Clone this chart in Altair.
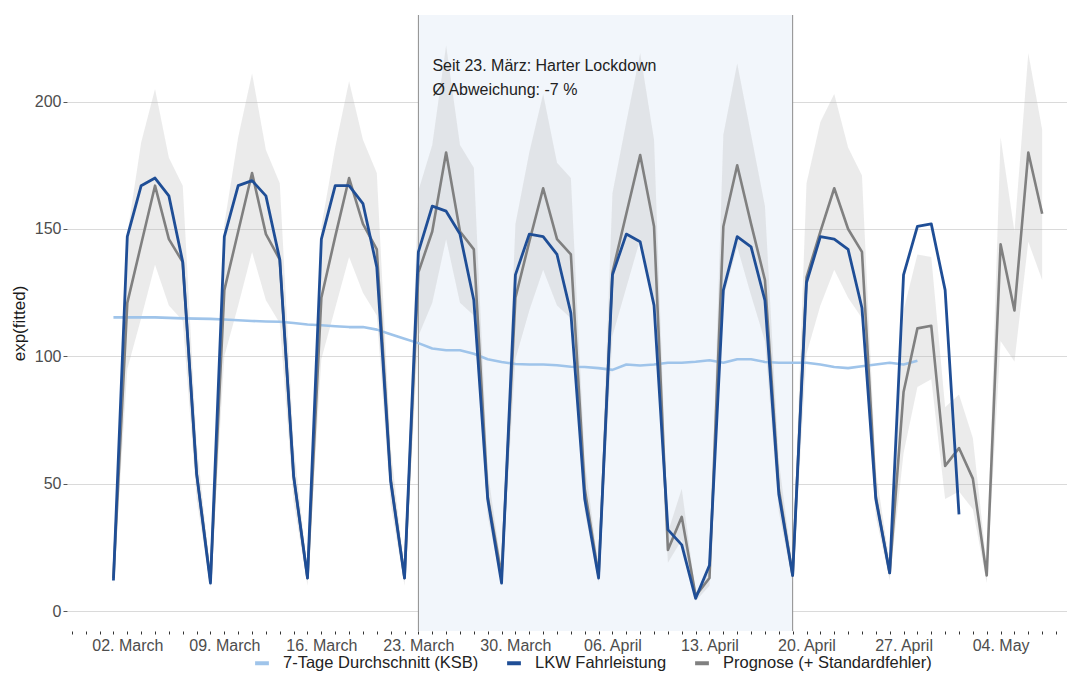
import altair as alt
import pandas as pd

# ---------------- data ----------------
dates = pd.date_range("2020-03-01", periods=68, freq="D").strftime("%Y-%m-%d").tolist()

SER_KSB = "7-Tage Durchschnitt (KSB)"
SER_LKW = "LKW Fahrleistung"
SER_PRO = "Prognose (+ Standardfehler)"

lkw = [12, 147, 167, 170, 163, 137, 54,
       11, 147, 167, 169, 163, 138, 53,
       13, 146, 167, 167, 160, 135, 51,
       13, 141, 159, 157, 148, 122, 44,
       11, 132, 148, 147, 140, 117, 44,
       13, 132, 148, 145, 120, 32, 26,
       5, 18, 126, 147, 143, 122, 46,
       14, 129, 147, 146, 142, 119, 44,
       15, 132, 151, 152, 126, 38]

prognose = [13, 121, 144, 167, 146, 137, 54,
            12, 126, 149, 172, 148, 138, 53,
            13, 123, 147, 170, 152, 142, 52,
            13, 133, 149, 180, 149, 142, 45,
            14, 123, 145, 166, 146, 140, 48,
            14, 133, 156, 179, 151, 24, 37,
            6, 13, 151, 175, 152, 130, 48,
            14, 131, 149, 166, 150, 141, 45,
            15, 86, 111, 112, 57, 64, 52,
            14, 144, 118, 180, 156]

prog_lower = [10, 95, 115, 136, 120, 114, 44,
              9, 100, 120, 141, 122, 113, 43,
              10, 99, 119, 139, 125, 116, 42,
              10, 108, 121, 146, 121, 116, 37,
              11, 99, 118, 134, 120, 115, 39,
              11, 108, 127, 146, 123, 19, 28,
              4, 10, 123, 143, 124, 106, 39,
              11, 101, 120, 134, 123, 115, 37,
              12, 62, 88, 91, 44, 47, 40,
              11, 106, 98, 145, 130]

prog_upper = [16, 148, 184, 205, 178, 167, 66,
              15, 152, 186, 211, 181, 168, 65,
              16, 151, 182, 208, 185, 172, 64,
              16, 165, 183, 222, 183, 174, 55,
              17, 152, 180, 203, 176, 170, 59,
              17, 164, 192, 219, 185, 31, 48,
              7, 16, 187, 215, 187, 159, 59,
              17, 168, 192, 203, 182, 171, 55,
              19, 118, 140, 139, 80, 85, 68,
              18, 186, 149, 219, 189]

ksb = [115.3, 115.3, 115.3, 115.3, 115.1, 114.9, 114.8,
       114.7, 114.5, 114.2, 113.9, 113.7, 113.6, 113.1,
       112.5, 112.2, 111.8, 111.5, 111.5, 110.5, 108.7,
       106.9, 105.2, 103.1, 102.4, 102.4, 101.0, 98.9,
       97.8, 97.0, 96.8, 96.8, 96.5, 95.9, 95.8,
       95.4, 94.7, 96.8, 96.4, 96.8, 97.5, 97.5,
       97.9, 98.5, 97.5, 98.9, 98.9, 97.8, 97.5,
       97.5, 97.5, 96.8, 95.8, 95.4, 96.1, 96.8,
       97.5, 96.8, 98.3]

lockdown_start = "2020-03-23"
lockdown_end = "2020-04-19"
note_lines = ["Seit 23. März: Harter Lockdown", "Ø Abweichung: -7 %"]
note_values = [214, 204.5]

# ---------------- tables ----------------
rows = []
for d, v in zip(dates, ksb):
    rows.append({"date": d, "value": v, "series": SER_KSB})
for d, v in zip(dates, lkw):
    rows.append({"date": d, "value": v, "series": SER_LKW})
for d, v in zip(dates, prognose):
    rows.append({"date": d, "value": v, "series": SER_PRO})
lines_df = pd.DataFrame(rows)

ribbon_df = pd.DataFrame({"date": dates, "lower": prog_lower, "upper": prog_upper})
rect_df = pd.DataFrame({"date": [lockdown_start], "date_end": [lockdown_end]})
edge_df = pd.DataFrame({"date": [lockdown_start, lockdown_end]})
note_df = pd.DataFrame({"date": [lockdown_start] * 2, "value": note_values, "text": note_lines})

# ---------------- layout ----------------
W = 1000
H = 616

x_scale = alt.Scale(
    type="utc",
    domain=[alt.DateTime(year=2020, month=2, date=26, hours=15, minutes=36, utc=True),
            alt.DateTime(year=2020, month=5, date=8, hours=19, utc=True)],
)
x_axis = alt.Axis(
    title=None, grid=False, domain=False,
    tickCount={"interval": "day", "step": 1},
    labelExpr="utcFormat(datum.value, '%u') == '1' ? utcFormat(datum.value, '%d. %B') : ''",
    labelOverlap=False, labelFlush=False,
    tickColor="#333333", tickSize=3, tickWidth=1,
    labelFontSize=16, labelColor="#4d4d4d", labelPadding=3,
)
y_scale = alt.Scale(domain=[-7.8, 234], nice=False, zero=False)
y_axis = alt.Axis(
    title="exp(fitted)", values=[0, 50, 100, 150, 200],
    grid=True, gridColor="#dadada", gridWidth=1.2, domain=False,
    tickColor="#555555", tickSize=4, labelFontSize=16, labelColor="#4d4d4d",
    labelPadding=2, titleFontSize=17, titleFontWeight="normal", titleColor="#1a1a1a",
    titlePadding=6, minExtent=33, maxExtent=33,
)

X = alt.X("date:T", scale=x_scale, axis=x_axis)

color = alt.Color(
    "series:N",
    scale=alt.Scale(domain=[SER_KSB, SER_LKW, SER_PRO], range=["#9fc4ea", "#1f4e96", "#808080"]),
    legend=alt.Legend(
        title=None, orient="none", direction="horizontal",
        legendX=186, legendY=639,
        symbolType="stroke", symbolStrokeWidth=4, symbolSize=190,
        labelFontSize=16.5, labelColor="#222222", columnPadding=20, labelOffset=12,
        labelLimit=0,
    ),
)

rect = alt.Chart(rect_df).mark_rect(color="#f2f6fb").encode(
    x=X, x2="date_end:T", y=alt.value(0), y2=alt.value(H)
)
edges = alt.Chart(edge_df).mark_rule(color="#8c8c8c", strokeWidth=1).encode(
    x=X, y=alt.value(0), y2=alt.value(H)
)
ribbon = alt.Chart(ribbon_df).mark_area(color="#b4b4b4", opacity=0.27).encode(
    x=X, y=alt.Y("lower:Q", scale=y_scale, axis=y_axis), y2="upper:Q"
)

def line_layer(name, width):
    return alt.Chart(lines_df).transform_filter(alt.datum.series == name).mark_line(
        strokeWidth=width, strokeJoin="round"
    ).encode(x=X, y=alt.Y("value:Q", scale=y_scale, axis=y_axis), color=color)

l_ksb = line_layer(SER_KSB, 2.6)
l_pro = line_layer(SER_PRO, 2.6)
l_lkw = line_layer(SER_LKW, 2.8)

note = alt.Chart(note_df).mark_text(
    align="left", baseline="middle", dx=14, fontSize=16, color="#222222"
).encode(x=X, y=alt.Y("value:Q", scale=y_scale, axis=y_axis), text="text:N")

chart = alt.layer(rect, edges, ribbon, l_ksb, l_pro, l_lkw, note).properties(
    width=W, height=H, padding={"left": 2, "top": 6, "right": 0, "bottom": 0}
).configure(font="Liberation Sans").configure_view(stroke=None)

chart.save("out.html", embed_options={"renderer": "svg", "actions": False})
